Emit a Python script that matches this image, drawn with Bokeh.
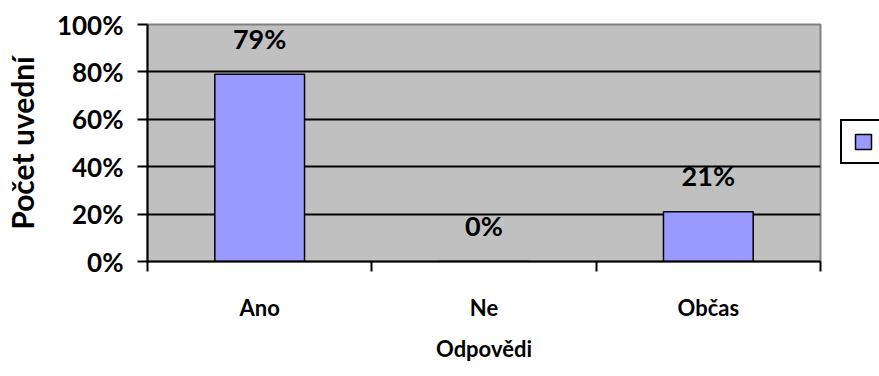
from bokeh.plotting import figure
from bokeh.layouts import row
from bokeh.models import (ColumnDataSource, FixedTicker, NumeralTickFormatter,
                          Range1d, Legend, LegendItem)
from bokeh.core.properties import value
from bokeh.embed import file_html
from bokeh.resources import INLINE

categories = ["Ano", "Ne", "Občas"]
values = [0.79, 0.0, 0.21]
value_labels = ["79%", "0%", "21%"]
y_ticks = [0, 0.2, 0.4, 0.6, 0.8, 1.0]

FONT = "Lato"
BAR_FILL = "#9999FF"
xs = [i + 0.5 for i in range(len(categories))]

src = ColumnDataSource(dict(x=xs, top=values, lab=value_labels))

p = figure(width=830, height=376, output_backend="svg", toolbar_location=None,
           x_range=Range1d(0, len(categories)), y_range=Range1d(0, 1),
           min_border_left=147, min_border_right=10, min_border_top=24,
           min_border_bottom=115)

p.background_fill_color = "#C0C0C0"
p.border_fill_color = "white"
p.outline_line_color = "#808080"
p.outline_line_width = 2

p.vbar(x="x", top="top", width=0.4, bottom=0, source=src,
       fill_color=BAR_FILL, line_color="black", line_width=1.5)

p.text(x="x", y="top", text="lab", source=src, text_align="center",
       text_baseline="middle", y_offset=-36, text_font=value(FONT),
       text_font_style="bold", text_font_size="27px", text_color="black")

# y axis
p.yaxis.ticker = FixedTicker(ticks=y_ticks)
p.yaxis.formatter = NumeralTickFormatter(format="0%")
p.yaxis.axis_line_color = "black"
p.yaxis.axis_line_width = 2
p.yaxis.major_tick_line_color = "black"
p.yaxis.major_tick_line_width = 2
p.yaxis.major_tick_in = 0
p.yaxis.major_tick_out = 10
p.yaxis.minor_tick_line_color = None
p.yaxis.major_label_standoff = 14
p.yaxis.major_label_text_font = FONT
p.yaxis.major_label_text_font_style = "bold"
p.yaxis.major_label_text_font_size = "26px"
p.yaxis.major_label_text_color = "black"
p.yaxis.axis_label = "Počet uvední"
p.yaxis.axis_label_text_font = FONT
p.yaxis.axis_label_text_font_style = "bold"
p.yaxis.axis_label_text_font_size = "30px"
p.yaxis.axis_label_text_color = "black"
p.yaxis.axis_label_standoff = 14

# x axis
p.xaxis.ticker = FixedTicker(ticks=xs, minor_ticks=list(range(len(categories) + 1)))
p.xaxis.major_label_overrides = {x: c for x, c in zip(xs, categories)}
p.xaxis.axis_line_color = "black"
p.xaxis.axis_line_width = 2
p.xaxis.major_tick_line_color = None
p.xaxis.major_tick_in = 0
p.xaxis.major_tick_out = 0
p.xaxis.minor_tick_line_color = "black"
p.xaxis.minor_tick_line_width = 2
p.xaxis.minor_tick_in = 0
p.xaxis.minor_tick_out = 10
p.xaxis.major_label_standoff = 22
p.xaxis.major_label_text_font = FONT
p.xaxis.major_label_text_font_style = "bold"
p.xaxis.major_label_text_font_size = "22px"
p.xaxis.major_label_text_color = "black"
p.xaxis.axis_label = "Odpovědi"
p.xaxis.axis_label_text_font = FONT
p.xaxis.axis_label_text_font_style = "bold"
p.xaxis.axis_label_text_font_size = "22px"
p.xaxis.axis_label_text_color = "black"
p.xaxis.axis_label_standoff = 11

# grid
p.xgrid.grid_line_color = None
p.ygrid.ticker = FixedTicker(ticks=y_ticks[1:-1])
p.ygrid.grid_line_color = "black"
p.ygrid.grid_line_width = 2
p.ygrid.grid_line_alpha = 1

# legend panel (box partially cut at the window edge)
p2 = figure(width=49, height=376, output_backend="svg", toolbar_location=None,
            x_range=Range1d(0, 1), y_range=Range1d(0, 1), min_border=0,
            x_axis_location=None, y_axis_location=None)
p2.outline_line_color = None
p2.xgrid.visible = False
p2.ygrid.visible = False
p2.background_fill_color = "white"
p2.border_fill_color = "white"
r2 = p2.vbar(x="x", top="top", width=0.4, bottom=0, source=src,
             fill_color=BAR_FILL, line_color="black", line_width=1.5,
             visible=False)
legend = Legend(items=[LegendItem(label=value(" "), renderers=[r2])],
                location=(10, 97), border_line_color="black",
                border_line_width=2, border_line_alpha=1,
                background_fill_color="white", background_fill_alpha=1,
                inactive_fill_alpha=0,
                glyph_width=20, glyph_height=19, label_height=19,
                padding=11, margin=0, label_standoff=5,
                label_text_font_size="13px")
p2.add_layout(legend, "center")

open("out.html", "w").write(file_html(row(p, p2, spacing=0), INLINE))
